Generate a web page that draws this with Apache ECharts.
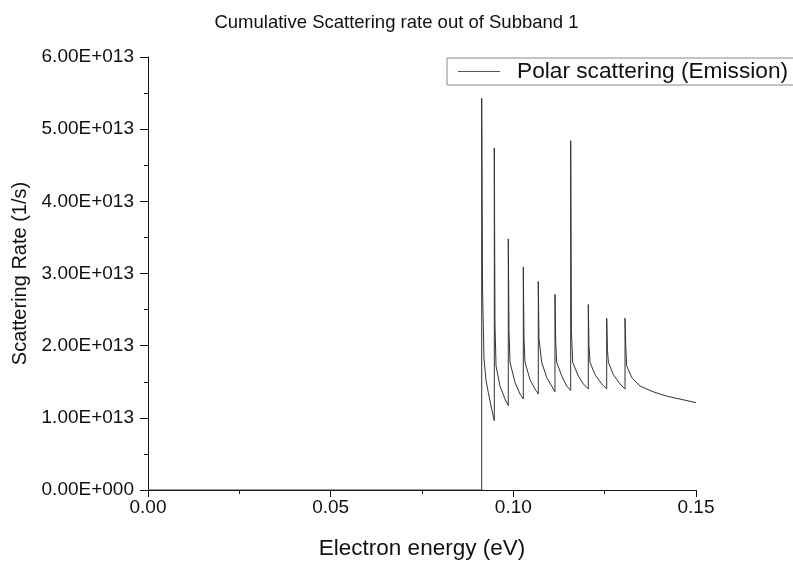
<!DOCTYPE html>
<html>
<head>
<meta charset="utf-8">
<script src="https://cdn.jsdelivr.net/npm/echarts@6/dist/echarts.min.js"></script>
<style>html,body{margin:0;padding:0;background:#fff;}#c{width:793px;height:565px;}</style>
</head>
<body>
<div id="c"></div>
<script>
const chartTitle = 'Cumulative Scattering rate out of Subband 1';
const seriesName = 'Polar scattering (Emission)';
const xAxisName = 'Electron energy (eV)';
const yAxisName = 'Scattering Rate (1/s)';
const xTicks = [0, 0.05, 0.10, 0.15];
const yTicks = [0, 1e13, 2e13, 3e13, 4e13, 5e13, 6e13];

// Electron energy (eV)
const energy = [
  0, 0.09134, 0.09134,
  0.09157, 0.09197, 0.09252, 0.09315, 0.09408, 0.09479, 0.09479,
  0.09498, 0.09526, 0.09635, 0.09772, 0.09862, 0.09862,
  0.09882, 0.09909, 0.10046, 0.10183, 0.10273, 0.10273,
  0.10292, 0.10319, 0.10456, 0.10593, 0.10683, 0.10683,
  0.10702, 0.10776, 0.10913, 0.11050, 0.11140, 0.11140,
  0.11160, 0.11187, 0.11324, 0.11461, 0.11570, 0.11570,
  0.11590, 0.11625, 0.11778, 0.11915, 0.12052, 0.12052,
  0.12071, 0.12098, 0.12235, 0.12419, 0.12556, 0.12556,
  0.12575, 0.12602, 0.12736, 0.12920, 0.13057, 0.13057,
  0.13076, 0.13103, 0.13240, 0.13467, 0.13831, 0.14198, 0.14652, 0.15000
];
// Scattering rate (units of 1e13 1/s)
const rate = [
  0, 0, 5.43,
  2.80, 1.82, 1.52, 1.35, 1.12, 0.96, 4.74,
  2.30, 1.72, 1.44, 1.26, 1.17, 3.48,
  2.20, 1.77, 1.49, 1.33, 1.26, 3.09,
  2.10, 1.77, 1.53, 1.40, 1.33, 2.89,
  2.10, 1.77, 1.56, 1.44, 1.36, 2.71,
  2.05, 1.77, 1.58, 1.44, 1.38, 4.84,
  2.20, 1.77, 1.58, 1.47, 1.40, 2.57,
  2.00, 1.77, 1.60, 1.47, 1.40, 2.38,
  1.95, 1.77, 1.60, 1.47, 1.40, 2.38,
  2.00, 1.72, 1.56, 1.44, 1.36, 1.30, 1.25, 1.21
];
const rateScale = 1e13;

const data = energy.map((e, i) => [e, rate[i] * rateScale]);

function sciFmt(v) {
  if (v === 0) return '0.00E+000';
  const exp = Math.floor(Math.log10(Math.abs(v)) + 1e-9);
  const man = v / Math.pow(10, exp);
  return man.toFixed(2) + 'E+' + String(exp).padStart(3, '0');
}

const font = '"Liberation Sans", Arial, sans-serif';
const chart = echarts.init(document.getElementById('c'));
chart.setOption({
  animation: false,
  backgroundColor: '#fff',
  title: {
    text: chartTitle, left: 'center', top: 8,
    textStyle: { fontFamily: font, fontSize: 18.5, fontWeight: 'normal', color: '#111' }
  },
  legend: {
    data: [seriesName], left: 447, top: 58,
    icon: 'rect', itemWidth: 42, itemHeight: 1, itemGap: 10,
    padding: [2, 40, 2, 11],
    borderColor: '#888', borderWidth: 1,
    textStyle: { fontFamily: font, fontSize: 22.7, color: '#111', padding: [0, 0, 0, 12] }
  },
  grid: { left: 148, right: 97, top: 57, bottom: 74 },
  xAxis: {
    type: 'value', min: xTicks[0], max: xTicks[xTicks.length - 1], interval: 0.05,
    name: xAxisName, nameLocation: 'middle', nameGap: 47,
    nameTextStyle: { fontFamily: font, fontSize: 22.5, color: '#111' },
    axisLine: { lineStyle: { color: '#111', width: 1 } },
    axisTick: { show: true, length: 7, lineStyle: { color: '#111' } },
    minorTick: { show: true, splitNumber: 2, length: 4, lineStyle: { color: '#111' } },
    axisLabel: { fontFamily: font, fontSize: 19, color: '#111', margin: 8, formatter: v => v.toFixed(2) },
    splitLine: { show: false }
  },
  yAxis: {
    type: 'value', min: yTicks[0], max: yTicks[yTicks.length - 1], interval: 1e13,
    name: yAxisName, nameLocation: 'middle', nameGap: 108,
    nameTextStyle: { fontFamily: font, fontSize: 20, color: '#111' },
    axisLine: { show: true, lineStyle: { color: '#111', width: 1 } },
    axisTick: { show: true, length: 8, lineStyle: { color: '#111' } },
    minorTick: { show: true, splitNumber: 2, length: 4, lineStyle: { color: '#111' } },
    axisLabel: { fontFamily: font, fontSize: 19, color: '#111', margin: 14, formatter: sciFmt },
    splitLine: { show: false }
  },
  series: [{
    name: seriesName, type: 'line', data: data,
    showSymbol: false, symbol: 'none', sampling: null,
    lineStyle: { color: '#333', width: 1 },
    itemStyle: { color: '#555' }
  }]
});
</script>
</body>
</html>
